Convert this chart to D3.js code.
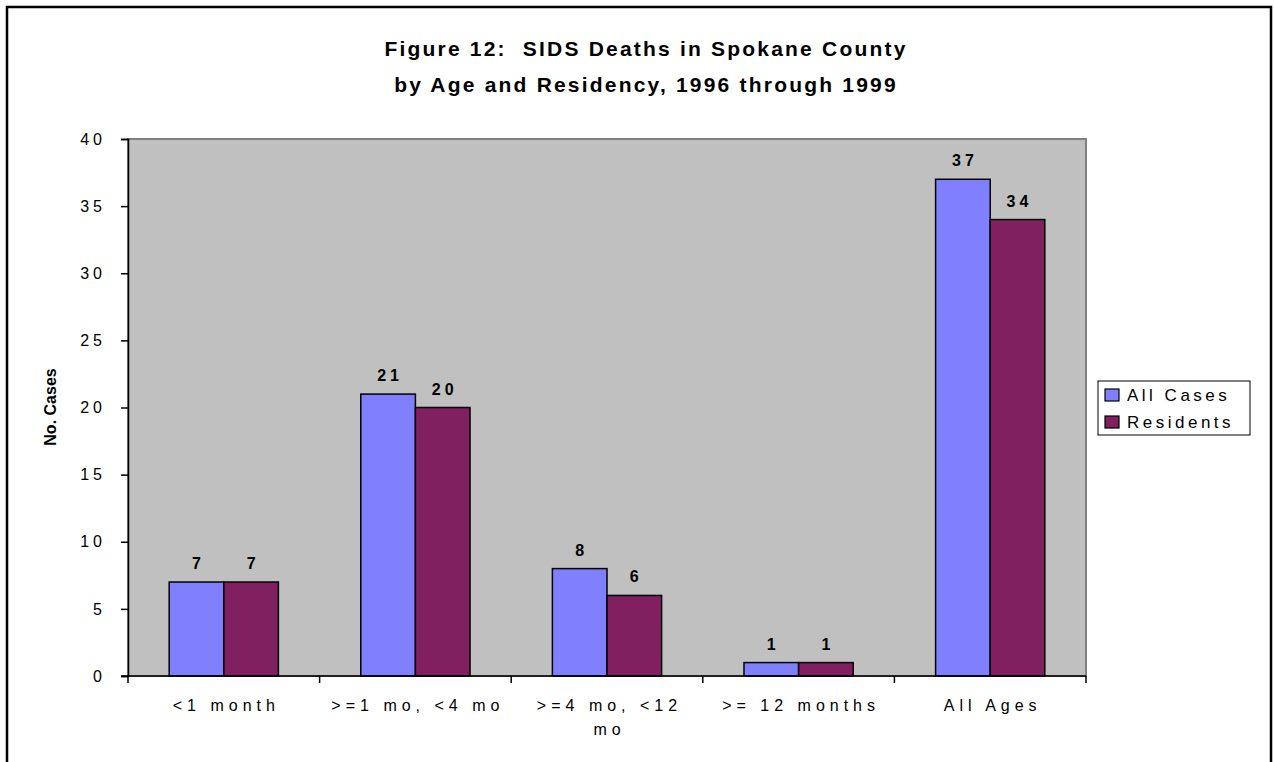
<!DOCTYPE html>
<html>
<head>
<meta charset="utf-8">
<script src="https://cdn.jsdelivr.net/npm/d3@7"></script>
<style>
  body { margin: 0; background: #fff; }
  text { font-family: Arial, "Liberation Sans", sans-serif; fill: #000; }
</style>
</head>
<body>
<script>
// chart data
var categories = ["<1 month", ">=1 mo, <4 mo", ">=4 mo, <12 mo", ">= 12 months", "All Ages"];
var allCases = [7, 21, 8, 1, 37];
var residents = [7, 20, 6, 1, 34];
var seriesNames = ["All Cases", "Residents"];
var yTicks = [0, 5, 10, 15, 20, 25, 30, 35, 40];
var titleLines = ["Figure 12:  SIDS Deaths in Spokane County", "by Age and Residency, 1996 through 1999"];

var w = 1274, h = 762;
var colors = ["#8080FF", "#802060"];

var plot = { left: 128, right: 1086, top: 139, bottom: 676 };

var svg = d3.select("body").append("svg")
  .attr("width", w)
  .attr("height", h);

// outer frame
svg.append("rect")
  .attr("x", 7).attr("y", 7)
  .attr("width", 1264).attr("height", 780)
  .attr("fill", "none").attr("stroke", "#000").attr("stroke-width", 2.5);

// title
svg.selectAll(".title")
  .data(titleLines)
  .enter().append("text")
  .attr("class", "title")
  .attr("x", 646)
  .attr("y", function (d, i) { return 56 + i * 36; })
  .attr("text-anchor", "middle")
  .attr("xml:space", "preserve")
  .style("white-space", "pre")
  .style("font-size", "21px")
  .style("font-weight", "bold")
  .style("letter-spacing", "2.2px")
  .text(function (d) { return d; });

var x = d3.scaleBand()
  .domain(categories)
  .range([plot.left, plot.right])
  .paddingInner(0.43)
  .paddingOuter(0.215);

var x1 = d3.scaleBand()
  .domain(seriesNames)
  .range([0, x.bandwidth()]);

var y = d3.scaleLinear()
  .domain([0, 40])
  .range([plot.bottom, plot.top]);

// plot area
svg.append("rect")
  .attr("x", plot.left).attr("y", plot.top)
  .attr("width", plot.right - plot.left)
  .attr("height", plot.bottom - plot.top)
  .attr("fill", "#C0C0C0")
  .attr("stroke", "#808080").attr("stroke-width", 2);

// bars
var rows = categories.map(function (c, i) {
  return { cat: c, vals: [allCases[i], residents[i]] };
});

var groups = svg.selectAll(".grp")
  .data(rows)
  .enter().append("g")
  .attr("class", "grp")
  .attr("transform", function (d) { return "translate(" + x(d.cat) + ",0)"; });

groups.selectAll("rect")
  .data(function (d) { return d.vals.map(function (v, j) { return { s: seriesNames[j], v: v, j: j }; }); })
  .enter().append("rect")
  .attr("x", function (d) { return x1(d.s); })
  .attr("y", function (d) { return y(d.v); })
  .attr("width", x1.bandwidth())
  .attr("height", function (d) { return y(0) - y(d.v); })
  .attr("fill", function (d) { return colors[d.j]; })
  .attr("stroke", "#000").attr("stroke-width", 1.5);

groups.selectAll(".lbl")
  .data(function (d) { return d.vals.map(function (v, j) { return { s: seriesNames[j], v: v }; }); })
  .enter().append("text")
  .attr("class", "lbl")
  .attr("x", function (d) { return x1(d.s) + x1.bandwidth() / 2 + 2; })
  .attr("y", function (d) { return y(d.v) - 13; })
  .attr("text-anchor", "middle")
  .style("font-size", "16px")
  .style("font-weight", "bold")
  .style("letter-spacing", "4px")
  .text(function (d) { return d.v; });

// y axis
var yAxis = d3.axisLeft(y).tickValues(yTicks).tickSize(7).tickPadding(15);
var gy = svg.append("g")
  .attr("transform", "translate(" + plot.left + ",0)")
  .call(yAxis);
gy.select(".domain").attr("stroke", "#000").attr("stroke-width", 1.5);
gy.selectAll(".tick line").attr("stroke", "#000").attr("stroke-width", 1.5);
gy.selectAll(".tick text")
  .style("font-size", "16px")
  .style("letter-spacing", "4px")
  .style("font-family", "Arial, 'Liberation Sans', sans-serif");

// x axis
var xEdges = d3.range(categories.length + 1).map(function (i) {
  return plot.left + i * x.step();
});
svg.append("line")
  .attr("x1", plot.left - 7).attr("x2", plot.right)
  .attr("y1", plot.bottom).attr("y2", plot.bottom)
  .attr("stroke", "#000").attr("stroke-width", 1.5);
svg.selectAll(".xtick")
  .data(xEdges)
  .enter().append("line")
  .attr("x1", function (d) { return d; }).attr("x2", function (d) { return d; })
  .attr("y1", plot.bottom).attr("y2", plot.bottom + 7)
  .attr("stroke", "#000").attr("stroke-width", 1.5);

// category labels (wrap long one)
var xLabelLines = [["<1 month"], [">=1 mo, <4 mo"], [">=4 mo, <12", "mo"], [">= 12 months"], ["All Ages"]];
svg.selectAll(".xl")
  .data(categories)
  .enter().append("text")
  .attr("class", "xl")
  .attr("text-anchor", "middle")
  .attr("y", 711)
  .style("font-size", "16px")
  .style("letter-spacing", "5px")
  .each(function (d, i) {
    var t = d3.select(this);
    xLabelLines[i].forEach(function (line, k) {
      t.append("tspan")
        .attr("x", x(d) + x.bandwidth() / 2 + 2.5)
        .attr("dy", k === 0 ? 0 : 24)
        .text(line);
    });
  });

// y axis title
svg.append("text")
  .attr("transform", "translate(56,407) rotate(-90)")
  .attr("text-anchor", "middle")
  .style("font-size", "16px")
  .style("font-weight", "bold")
  .text("No. Cases");

// legend
var lg = svg.append("g").attr("transform", "translate(1098,381)");
lg.append("rect")
  .attr("width", 152).attr("height", 54)
  .attr("fill", "#fff").attr("stroke", "#000").attr("stroke-width", 1);
var li = lg.selectAll(".li")
  .data(seriesNames)
  .enter().append("g")
  .attr("class", "li")
  .attr("transform", function (d, i) { return "translate(7," + (14 + i * 27) + ")"; });
li.append("rect")
  .attr("x", 0).attr("y", -6)
  .attr("width", 14).attr("height", 12)
  .attr("fill", function (d, i) { return colors[i]; })
  .attr("stroke", "#000").attr("stroke-width", 1.2);
li.append("text")
  .attr("x", 22).attr("y", 6)
  .style("font-size", "17px")
  .style("letter-spacing", "3.5px")
  .text(function (d) { return d; });
</script>
</body>
</html>
